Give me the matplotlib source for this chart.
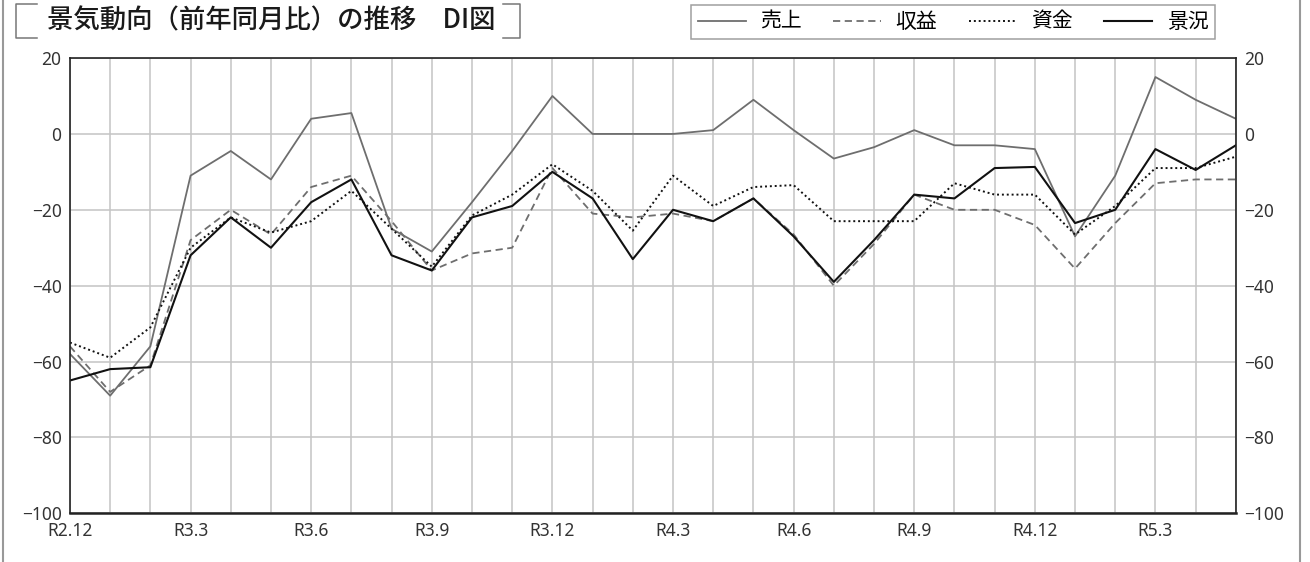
import numpy as np
import matplotlib
matplotlib.use("Agg")
from matplotlib import pyplot as plt
from matplotlib.lines import Line2D

plt.rcParams['font.family'] = ['Noto Sans Condensed', 'Noto Sans', 'Noto Sans CJK JP', 'DejaVu Sans']
plt.rcParams['font.stretch'] = 'condensed'

# months R2.12 .. R5.5
months = ["R2.12", "R3.1", "R3.2", "R3.3", "R3.4", "R3.5", "R3.6", "R3.7", "R3.8", "R3.9",
          "R3.10", "R3.11", "R3.12", "R4.1", "R4.2", "R4.3", "R4.4", "R4.5", "R4.6", "R4.7",
          "R4.8", "R4.9", "R4.10", "R4.11", "R4.12", "R5.1", "R5.2", "R5.3", "R5.4", "R5.5"]

uriage = [-58, -69, -56, -11, -4.5, -12, 4, 5.5, -25, -31,
          -18, -4.5, 10, 0, 0, 0, 1, 9, 1, -6.5,
          -3.5, 1, -3, -3, -4, -27, -11, 15, 9, 4]
shueki = [-56, -68, -61, -28, -20, -26.5, -14, -11, -23, -36,
          -31.5, -30, -9, -21, -22, -21, -23, -17, -26.5, -40,
          -29, -16, -20, -20, -24, -35.5, -23.5, -13, -12, -12]
shikin = [-55, -59, -51, -30, -22, -26, -23, -15, -25, -35,
          -21.5, -16, -8, -15, -25.5, -11, -19, -14, -13.5, -23,
          -23, -23, -13, -16, -16, -26.5, -19, -9, -9, -6]
keikyo = [-65, -62, -61.5, -32, -22, -30, -18, -12, -32, -36,
          -22, -19, -10, -17, -33, -20, -23, -17, -27, -39,
          -28, -16, -17, -9, -8.7, -23.5, -20, -4, -9.5, -3]

x = np.arange(len(months))

fig = plt.figure(figsize=(13.1, 5.62), dpi=100)
ax = fig.add_axes([0.0534, 0.0867, 0.89, 0.81])

ax.plot(x, uriage, color="#6e6e6e", lw=1.3, label="売上")
ax.plot(x, shueki, color="#6e6e6e", lw=1.3, ls=(0, (4, 2.5)), label="収益")
ax.plot(x, shikin, color="#111111", lw=1.4, ls=(0, (1, 1.5)), label="資金")
ax.plot(x, keikyo, color="#111111", lw=1.5, label="景況")

ax.set_xlim(0, len(months) - 1)
ax.set_ylim(-100, 20)
ax.set_xticks(x)
ax.set_xticklabels([m if i % 3 == 0 else "" for i, m in enumerate(months)])
ax.set_yticks(np.arange(-100, 21, 20))
ax.tick_params(axis="both", length=0, labelsize=12.5, colors="#333333")
ax.tick_params(axis="y", labelright=True, pad=6)
ax.tick_params(axis="x", pad=6)
ax.grid(True, color="#c4c4c4", lw=1.1)
ax.set_axisbelow(True)
for s in ["top", "left", "right"]:
    ax.spines[s].set_color("#222222")
    ax.spines[s].set_linewidth(1.2)
ax.spines["bottom"].set_color("#222222")
ax.spines["bottom"].set_linewidth(1.8)

# title with corner brackets
fig.text(0.036, 0.962, "景気動向（前年同月比）の推移　DI図", fontsize=19,
         family=["Noto Sans CJK JP"], weight="medium", va="center", ha="left", color="#1a1a1a")
gc = "#777777"
fig.add_artist(Line2D([0.028, 0.0122, 0.0122, 0.028], [0.993, 0.993, 0.932, 0.932],
                      color=gc, lw=1.1, transform=fig.transFigure))
fig.add_artist(Line2D([0.384, 0.397, 0.397, 0.384], [0.993, 0.993, 0.932, 0.932],
                      color=gc, lw=1.1, transform=fig.transFigure))
# outer frame sides
fig.add_artist(Line2D([0.0023, 0.0023], [0, 1], color="#999999", lw=1.5, transform=fig.transFigure))
fig.add_artist(Line2D([0.9922, 0.9922], [0, 1], color="#999999", lw=1.5, transform=fig.transFigure))

leg = fig.legend(loc="center", bbox_to_anchor=(0.7275, 0.961), ncol=4, frameon=True,
                 fancybox=False, edgecolor="#888888", handlelength=2.3, columnspacing=1.5,
                 handletextpad=0.7, borderpad=0.3,
                 prop={"family": ["Noto Sans CJK JP"], "size": 15})
leg.get_frame().set_linewidth(1.1)

fig.savefig("out.png", dpi=100)
